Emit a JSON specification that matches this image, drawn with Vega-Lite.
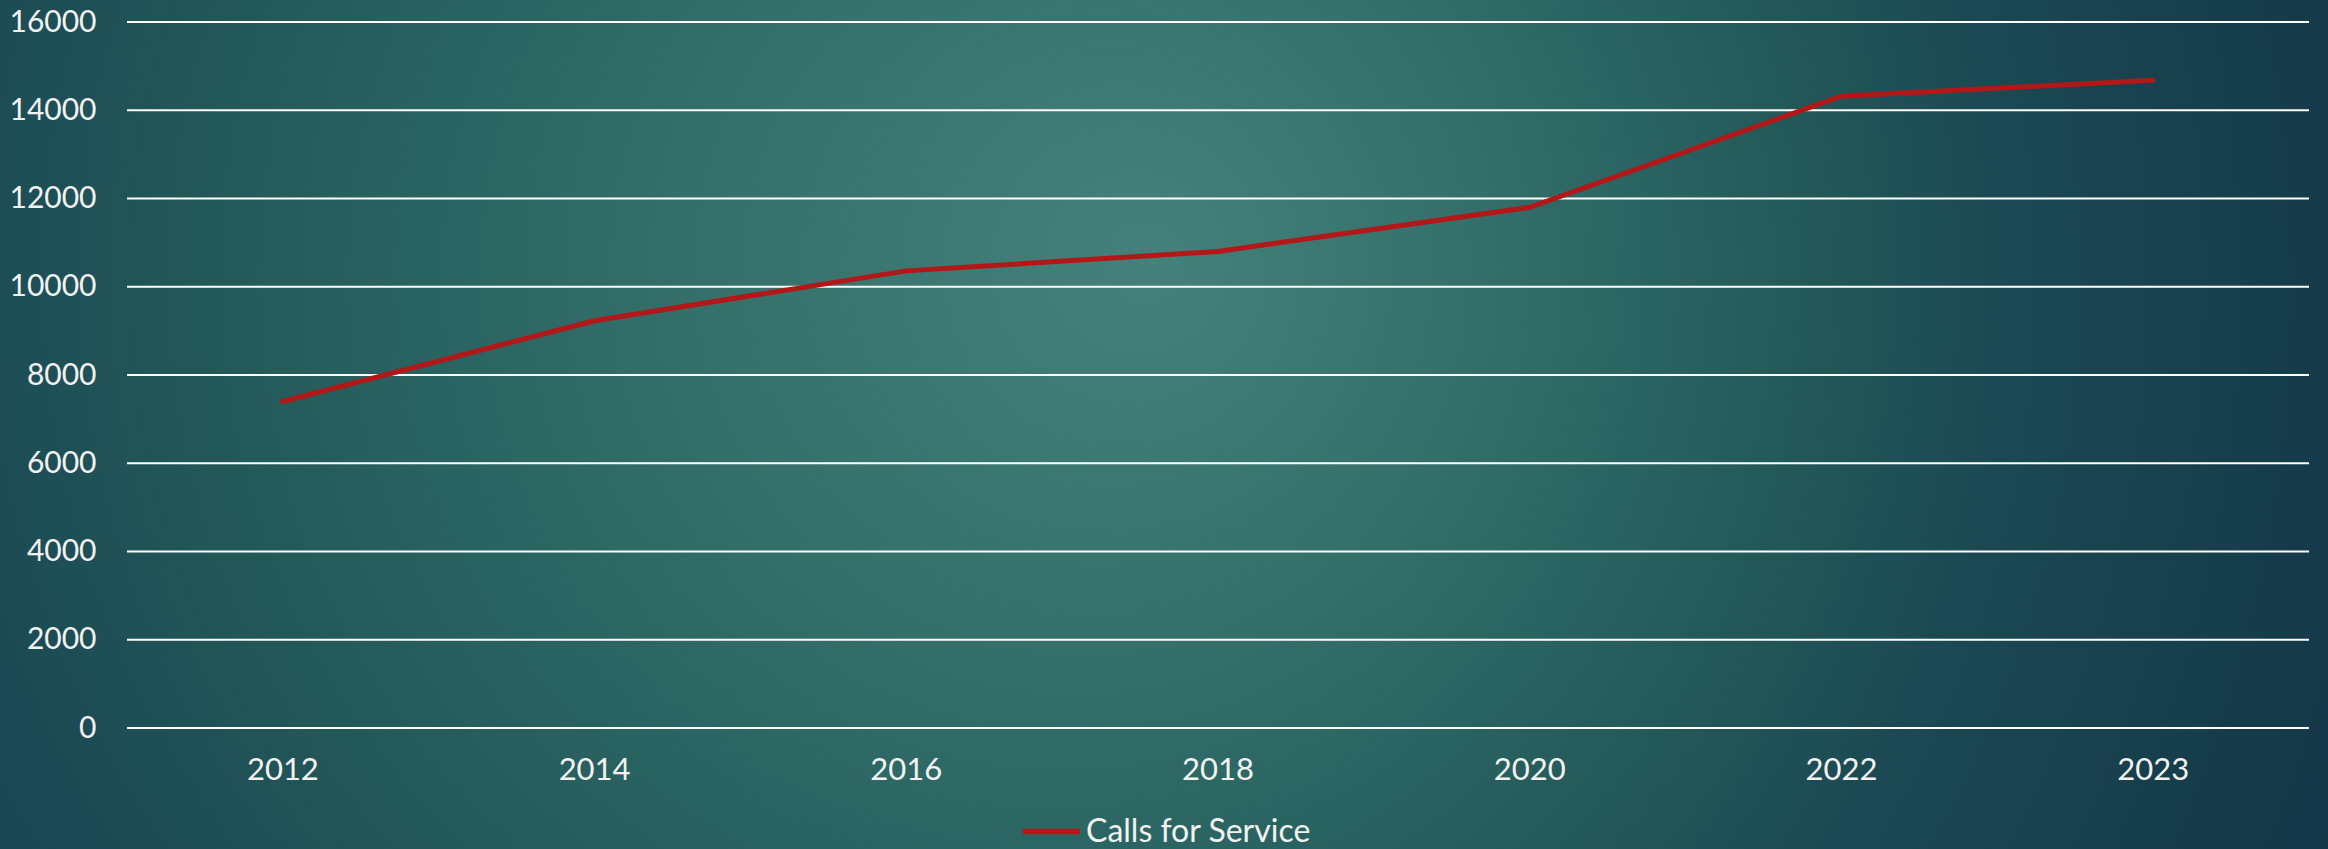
{
  "$schema": "https://vega.github.io/schema/vega-lite/v6.json",
  "width": 2328,
  "height": 849,
  "autosize": {"type": "none"},
  "padding": 0,
  "background": "#1D4A55",
  "config": {
    "font": "Lato",
    "view": {
      "stroke": null,
      "fill": {
        "gradient": "radial",
        "x1": 0.495, "y1": 0.43, "r1": 0,
        "x2": 0.37, "y2": 0.442, "r2": 0.686,
        "stops": [
          {"offset": 0, "color": "#43817A"},
          {"offset": 0.08, "color": "#3F7C75"},
          {"offset": 0.235, "color": "#35706B"},
          {"offset": 0.39, "color": "#296361"},
          {"offset": 0.52, "color": "#225657"},
          {"offset": 0.6, "color": "#1E4E56"},
          {"offset": 0.665, "color": "#1B4852"},
          {"offset": 0.82, "color": "#173F4C"},
          {"offset": 0.92, "color": "#153A4A"},
          {"offset": 1, "color": "#133748"}
        ]
      }
    }
  },
  "datasets": {
    "calls": [
      {"Year": "2012", "Calls": 7400, "Series": "Calls for Service"},
      {"Year": "2014", "Calls": 9230, "Series": "Calls for Service"},
      {"Year": "2016", "Calls": 10360, "Series": "Calls for Service"},
      {"Year": "2018", "Calls": 10800, "Series": "Calls for Service"},
      {"Year": "2020", "Calls": 11800, "Series": "Calls for Service"},
      {"Year": "2022", "Calls": 14320, "Series": "Calls for Service"},
      {"Year": "2023", "Calls": 14680, "Series": "Calls for Service"}
    ],
    "grid": [
      {"start": "2012", "end": "2023", "Value": 0},
      {"start": "2012", "end": "2023", "Value": 2000},
      {"start": "2012", "end": "2023", "Value": 4000},
      {"start": "2012", "end": "2023", "Value": 6000},
      {"start": "2012", "end": "2023", "Value": 8000},
      {"start": "2012", "end": "2023", "Value": 10000},
      {"start": "2012", "end": "2023", "Value": 12000},
      {"start": "2012", "end": "2023", "Value": 14000},
      {"start": "2012", "end": "2023", "Value": 16000}
    ]
  },
  "layer": [
    {
      "data": {"name": "grid"},
      "mark": {"type": "rule", "color": "#FFFFFF", "strokeWidth": 2},
      "encoding": {
        "x": {"field": "start", "type": "ordinal", "bandPosition": 0},
        "x2": {"field": "end", "bandPosition": 1},
        "y": {"field": "Value", "type": "quantitative"}
      }
    },
    {
      "data": {"name": "calls"},
      "mark": {"type": "line", "strokeWidth": 5, "strokeCap": "round"},
      "encoding": {
        "x": {
          "field": "Year",
          "type": "ordinal",
          "bandPosition": 0.5,
          "scale": {
            "type": "band",
            "domain": ["2012", "2014", "2016", "2018", "2020", "2022", "2023"],
            "paddingInner": 0,
            "paddingOuter": 0.2342,
            "align": 0.87
          },
          "axis": {
            "orient": "bottom",
            "offset": -121,
            "title": null,
            "domain": false,
            "ticks": false,
            "tickSize": 0,
            "grid": false,
            "labelAngle": 0,
            "labelAlign": "center",
            "labelBaseline": "top",
            "labelPadding": 27,
            "labelFontSize": 31,
            "labelColor": "#F2F2F2",
            "labelFont": "Lato"
          }
        },
        "y": {
          "field": "Calls",
          "type": "quantitative",
          "scale": {"domain": [-2742.2, 16498.8], "nice": false, "zero": false},
          "axis": {
            "orient": "left",
            "offset": -127,
            "title": null,
            "values": [0, 2000, 4000, 6000, 8000, 10000, 12000, 14000, 16000],
            "format": "d",
            "domain": false,
            "ticks": false,
            "tickSize": 0,
            "grid": false,
            "labelAlign": "right",
            "labelBaseline": "middle",
            "labelPadding": 31,
            "labelFontSize": 30,
            "labelColor": "#F2F2F2",
            "labelFont": "Lato"
          }
        },
        "color": {
          "field": "Series",
          "type": "nominal",
          "scale": {"range": ["#B31717"]},
          "legend": {
            "title": null,
            "orient": "none",
            "legendX": 1020,
            "legendY": 800,
            "symbolType": "stroke",
            "symbolSize": 3249,
            "symbolStrokeWidth": 5.5,
            "labelFontSize": 32,
            "labelColor": "#F2F2F2",
            "labelFont": "Lato",
            "labelLimit": 0,
            "labelOffset": 3
          }
        }
      }
    }
  ]
}
